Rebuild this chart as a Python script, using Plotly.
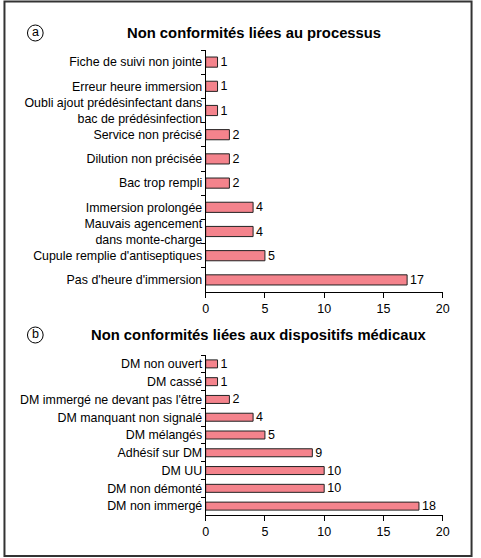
import plotly.graph_objects as go

W, H = 481, 558

cats_a = ["Fiche de suivi non jointe", "Erreur heure immersion",
          "Oubli ajout prédésinfectant dans<br>bac de prédésinfection",
          "Service non précisé", "Dilution non précisée", "Bac trop rempli",
          "Immersion prolongée", "Mauvais agencement<br>dans monte-charge",
          "Cupule remplie d'antiseptiques", "Pas d'heure d'immersion"]
vals_a = [1, 1, 1, 2, 2, 2, 4, 4, 5, 17]

cats_b = ["DM non ouvert", "DM cassé", "DM immergé ne devant pas l'être",
          "DM manquant non signalé", "DM mélangés", "Adhésif sur DM",
          "DM UU", "DM non démonté", "DM non immergé"]
vals_b = [1, 1, 2, 4, 5, 9, 10, 10, 18]

x_ticks = [0, 5, 10, 15, 20]

title_a = "Non conformités liées au processus"
title_b = "Non conformités liées aux dispositifs médicaux"

FONT = "Liberation Sans, Arial, Helvetica, sans-serif"
BAR = "#F4838C"

def px_x(p):
    return p / W

def px_y(p):
    return 1 - p / H

fig = go.Figure()
fig.add_trace(go.Bar(x=vals_a, y=cats_a, orientation="h", xaxis="x", yaxis="y",
                     marker=dict(color=BAR, line=dict(color="#222", width=1)),
                     width=0.42, text=[str(v) for v in vals_a], textposition="outside",
                     constraintext="none",
                     textfont=dict(size=12.5, color="#000", family=FONT), cliponaxis=False))
fig.add_trace(go.Bar(x=vals_b, y=cats_b, orientation="h", xaxis="x2", yaxis="y2",
                     marker=dict(color=BAR, line=dict(color="#222", width=1)),
                     width=0.45, text=[str(v) for v in vals_b], textposition="outside",
                     constraintext="none",
                     textfont=dict(size=12.5, color="#000", family=FONT), cliponaxis=False))

xdom = [px_x(207), px_x(449)]
xa = dict(range=[0, 20], tickvals=x_ticks, ticks="outside", ticklen=5, tickcolor="#000",
          showline=True, linecolor="#000", linewidth=1, showgrid=False, zeroline=False,
          tickfont=dict(size=12.5, color="#000", family=FONT), fixedrange=True)
ya = dict(type="category", autorange="reversed", ticks="outside", tickson="boundaries",
          ticklen=4, tickcolor="#000", showline=True, linecolor="#000", linewidth=1,
          showgrid=False, tickfont=dict(size=12.4, color="#000", family=FONT), fixedrange=True)

fig.update_layout(
    width=W, height=H, autosize=False, margin=dict(l=0, r=0, t=0, b=0),
    paper_bgcolor="white", plot_bgcolor="white", showlegend=False,
    font=dict(family=FONT, color="#000"),
    xaxis=dict(xa, domain=xdom, anchor="y"),
    yaxis=dict(ya, domain=[px_y(292), px_y(50)], anchor="x"),
    xaxis2=dict(xa, domain=xdom, anchor="y2"),
    yaxis2=dict(ya, domain=[px_y(515), px_y(355)], anchor="x2"),
    bargap=0.55,
)

annos = [
    dict(text="<b>" + title_a + "</b>", x=px_x(256), y=px_y(33)),
    dict(text="<b>" + title_b + "</b>", x=px_x(261), y=px_y(335)),
]
for a in annos:
    fig.add_annotation(xref="paper", yref="paper", x=a["x"], y=a["y"], text=a["text"],
                       showarrow=False, xanchor="center", yanchor="middle",
                       font=dict(size=14.8, family=FONT, color="#000"))

for letter, cy in [("a", 33), ("b", 335)]:
    fig.add_shape(type="circle", xref="paper", yref="paper",
                  x0=px_x(25), x1=px_x(41), y0=px_y(cy + 8), y1=px_y(cy - 8),
                  line=dict(color="#000", width=1))
    fig.add_annotation(xref="paper", yref="paper", x=px_x(33), y=px_y(cy - 1), text=letter,
                       showarrow=False, xanchor="center", yanchor="middle",
                       font=dict(size=12.5, family=FONT, color="#000"))

fig.add_shape(type="rect", xref="paper", yref="paper",
              x0=px_x(1.5), x1=px_x(478.5), y0=px_y(556), y1=px_y(1.5),
              line=dict(color="#333", width=2))

fig.write_html("out.html",
               config={"displayModeBar": False, "responsive": False, "staticPlot": True},
               default_width="481px", default_height="558px",
               post_script="document.body.style.margin='0';document.body.style.padding='0';"
                           "document.body.style.overflow='hidden';"
                           "document.documentElement.style.overflow='hidden';")
